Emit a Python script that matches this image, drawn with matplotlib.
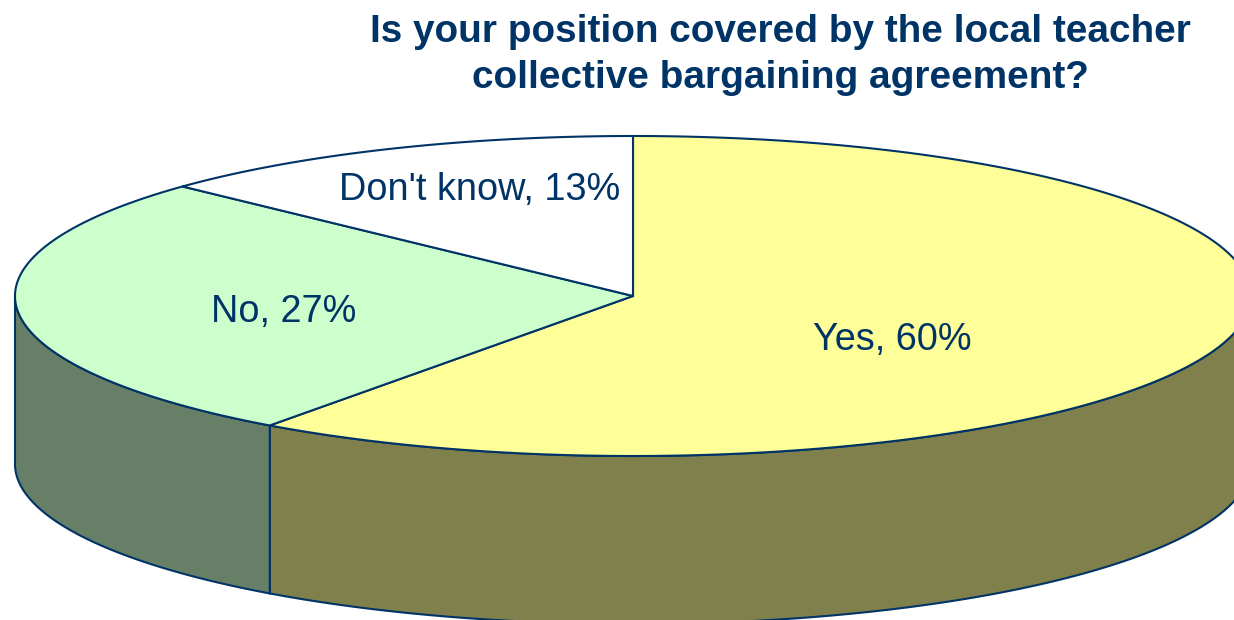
import numpy as np
import matplotlib

matplotlib.use("Agg")
import matplotlib.pyplot as plt
from matplotlib.patches import Polygon

plt.rcParams["font.family"] = ["Liberation Sans", "DejaVu Sans"]

title = "Is your position covered by the local teacher\ncollective bargaining agreement?"
labels = ["Yes", "No", "Don't know"]
shares = [60, 27, 13]
top_colors = ["#FFFF99", "#CCFFCC", "#FFFFFF"]
side_colors = ["#80804D", "#667F66", "#808080"]
label_pos = [(892, 340), (284, 312), (480, 190)]

EDGE = "#003366"
CX, CY = 633, 296
RX, RY = 618, 160
DEPTH = 168


def rim(start, end):
    # angles run clockwise from the top of the pie, in percent of the circle
    t = np.radians(np.linspace(start, end, 300) * 3.6)
    return CX + RX * np.sin(t), CY + RY * np.cos(t) * -1


fig = plt.figure(figsize=(12.34, 6.2), dpi=100)
ax = fig.add_axes([0, 0, 1, 1])
ax.set_xlim(0, 1234)
ax.set_ylim(620, 0)
ax.axis("off")

# side wall first, only the front half of the rim shows
start = 0
for share, side in zip(shares, side_colors):
    end = start + share
    lo, hi = max(start, 25), min(end, 75)
    if hi > lo:
        x, y = rim(lo, hi)
        pts = np.r_[np.c_[x, y], np.c_[x[::-1], y[::-1] + DEPTH]]
        ax.add_patch(Polygon(pts, closed=True, fc=side, ec=EDGE, lw=1.5))
    start = end

# top of the pie
start = 0
for share, top in zip(shares, top_colors):
    end = start + share
    x, y = rim(start, end)
    pts = np.r_[[[CX, CY]], np.c_[x, y]]
    ax.add_patch(Polygon(pts, closed=True, fc=top, ec=EDGE, lw=1.5))
    start = end

for name, share, (px, py) in zip(labels, shares, label_pos):
    ax.text(px, py, f"{name}, {share}%", ha="center", va="center", fontsize=27.3, color=EDGE)

ax.text(780, 55, title, ha="center", va="center", fontsize=27.9, fontweight="bold",
        color=EDGE, linespacing=1.39)

fig.savefig("out.png", dpi=100)
